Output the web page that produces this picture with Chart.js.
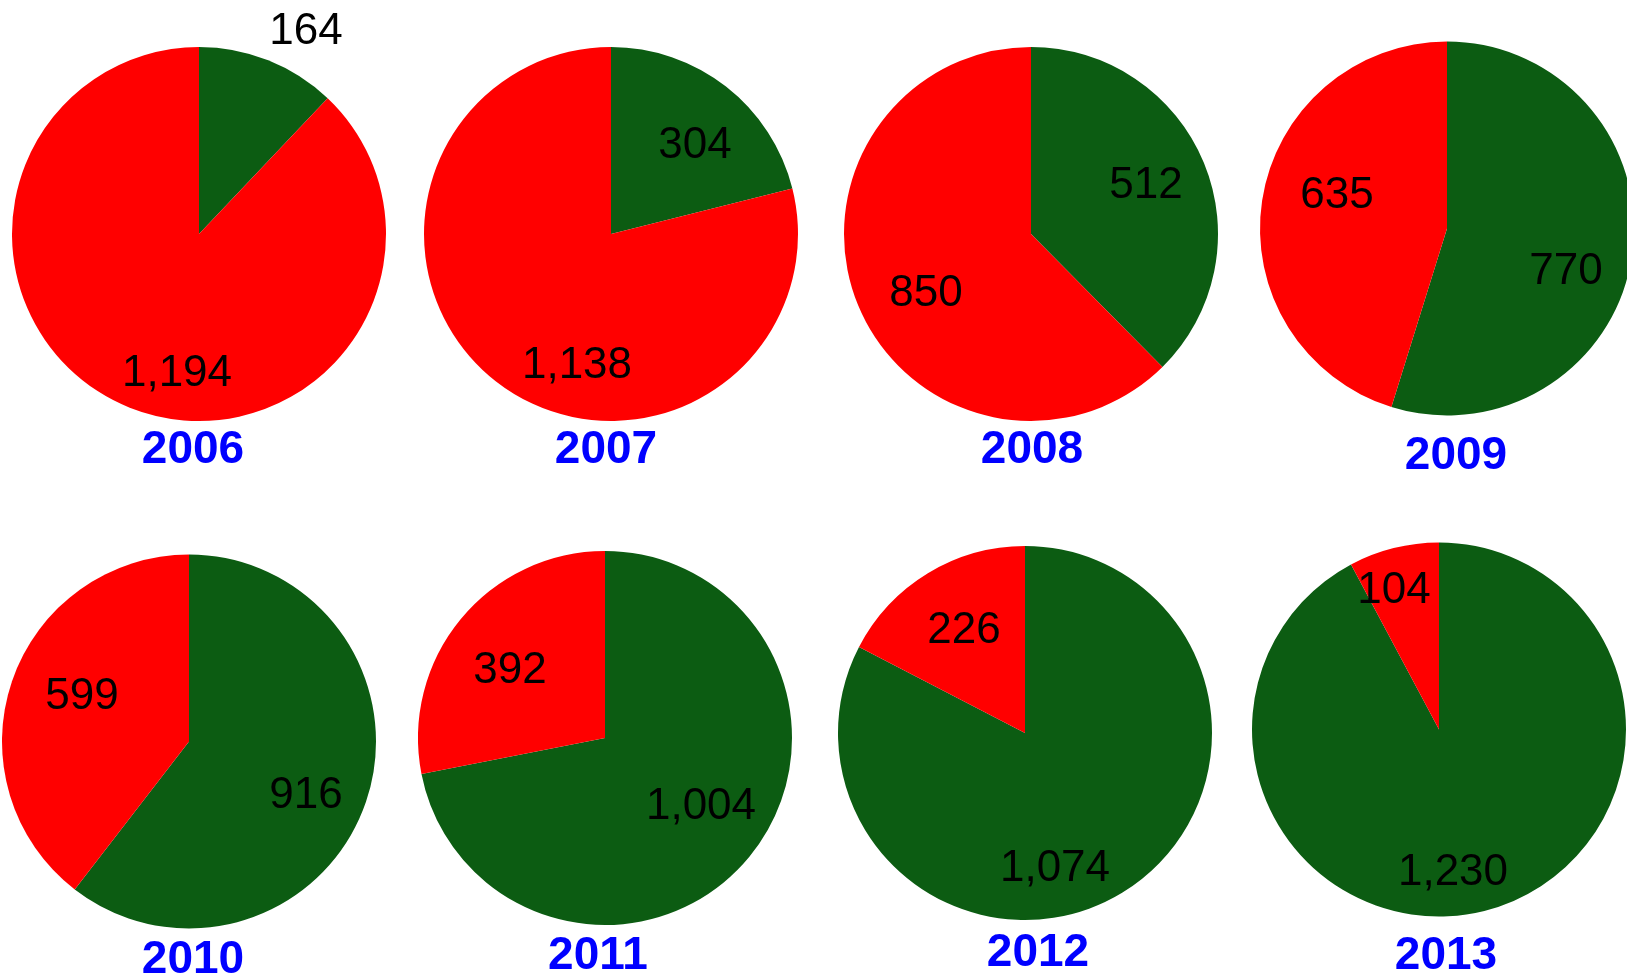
<!DOCTYPE html>
<html>
<head>
<meta charset="utf-8">
<script src="https://cdn.jsdelivr.net/npm/chart.js@4"></script>
<style>
  html, body { margin: 0; padding: 0; background: #fff; }
  body { width: 1627px; height: 973px; position: relative; overflow: hidden; }
  canvas { position: absolute; top: 0; }
</style>
</head>
<body>
<script>
// data
const years = ['2006', '2007', '2008', '2009', '2010', '2011', '2012', '2013']
const greenValues = [164, 304, 512, 770, 916, 1004, 1074, 1230]
const redValues = [1194, 1138, 850, 635, 599, 392, 226, 104]

// layout: pie centres and label offsets from the centre (green, red, year)
const centres = [[199, 234], [611, 234], [1031, 234], [1447, 228.5],
                 [189, 741.5], [605, 738], [1025, 733], [1439, 729.5]]
const labelOffsets = [
  [[107, -206], [-22, 136], [-6, 212]],
  [[84, -92], [-34, 128], [-5, 212]],
  [[115, -52], [-105, 56], [1, 212]],
  [[119, 39.5], [-110, -36.5], [9, 223.5]],
  [[117, 50.5], [-107, -48.5], [4, 214.5]],
  [[96, 65], [-95, -71], [-7, 214]],
  [[30, 132], [-61, -106], [13, 216]],
  [[14, 139.5], [-45, -142.5], [7, 222.5]],
]

const GREEN = '#0c5c12', RED = '#ff0000', BLUE = '#0000ff'
const R = 187, W = 420, H = 973

const pieLabels = {
  id: 'pieLabels',
  afterDatasetsDraw(chart, args, opts) {
    const { ctx } = chart
    const arc = chart.getDatasetMeta(0).data[0]
    const cx = arc.x, cy = arc.y
    const vals = chart.data.datasets[0].data
    ctx.save()
    ctx.textAlign = 'center'
    ctx.textBaseline = 'alphabetic'
    ctx.fillStyle = '#000'
    ctx.font = "44px 'Liberation Sans', Arial, sans-serif"
    vals.forEach((v, i) => {
      const [dx, dy] = opts.offsets[i]
      ctx.fillText(v.toLocaleString('en-US'), cx + dx, cy + dy + 15.7)
    })
    const [yx, yy] = opts.offsets[2]
    ctx.fillStyle = BLUE
    ctx.font = "bold 46px 'Liberation Sans', Arial, sans-serif"
    ctx.fillText(opts.year, cx + yx, cy + yy + 16.5)
    ctx.restore()
  },
}

years.forEach((year, i) => {
  const [cx, cy] = centres[i]
  const cv = document.createElement('canvas')
  cv.width = W; cv.height = H
  cv.style.left = (cx - W / 2) + 'px'
  document.body.appendChild(cv)
  const top = cy - R
  new Chart(cv, {
    type: 'pie',
    data: {
      labels: ['Green', 'Red'],
      datasets: [{ data: [greenValues[i], redValues[i]],
        backgroundColor: [GREEN, RED], borderWidth: 0, hoverOffset: 0 }],
    },
    options: {
      responsive: false, maintainAspectRatio: false, animation: false, events: [],
      devicePixelRatio: 1,
      layout: { padding: { left: W / 2 - R, right: W / 2 - R, top, bottom: H - top - 2 * R } },
      plugins: {
        legend: { display: false }, tooltip: { enabled: false },
        pieLabels: { offsets: labelOffsets[i], year },
      },
    },
    plugins: [pieLabels],
  })
})
</script>
</body>
</html>
